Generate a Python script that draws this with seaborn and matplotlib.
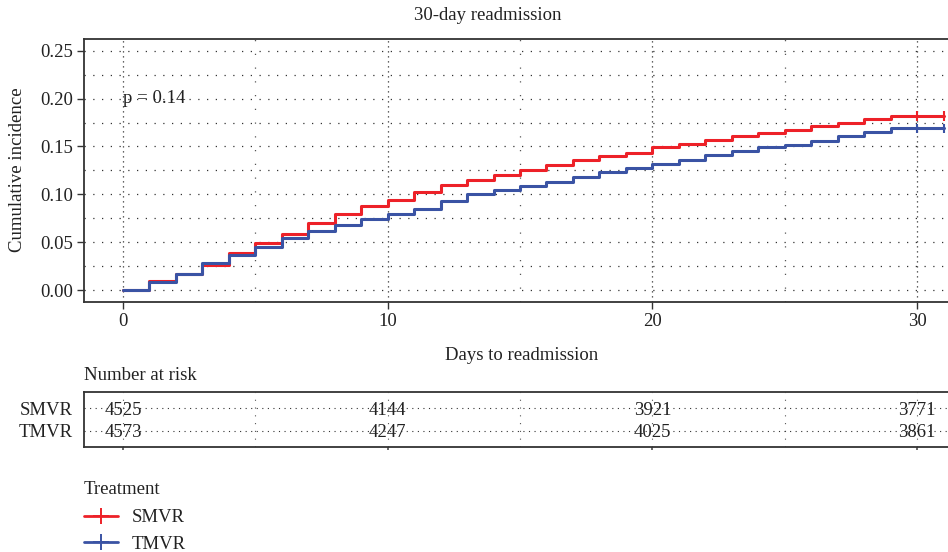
import pandas as pd
import matplotlib.pyplot as plt
import seaborn as sns
from matplotlib.ticker import MultipleLocator
from matplotlib.lines import Line2D

# cumulative incidence, one value per day (0..31)
days = list(range(0, 32))
smvr = [0, 0.009, 0.017, 0.026, 0.039, 0.049, 0.059, 0.070, 0.079, 0.088,
        0.094, 0.102, 0.110, 0.115, 0.120, 0.125, 0.131, 0.136, 0.140, 0.143,
        0.149, 0.153, 0.157, 0.161, 0.164, 0.167, 0.171, 0.175, 0.179, 0.182,
        0.182, 0.182]
tmvr = [0, 0.008, 0.017, 0.028, 0.037, 0.045, 0.054, 0.062, 0.068, 0.074,
        0.079, 0.085, 0.093, 0.100, 0.105, 0.109, 0.113, 0.118, 0.123, 0.127,
        0.132, 0.136, 0.141, 0.145, 0.149, 0.152, 0.156, 0.161, 0.165, 0.169,
        0.169, 0.169]
censor_days = [30, 31]

groups = ["SMVR", "TMVR"]
risk_days = [0, 10, 20, 30]
risk_smvr = [4525, 4144, 3921, 3771]
risk_tmvr = [4573, 4247, 4025, 3861]
p_text = "p = 0.14"

colors = {"SMVR": "#ED2128", "TMVR": "#3A53A4"}
FS = 13.5
TXT = "#222222"

sns.set_theme(style="white")
plt.rcParams["font.family"] = ["Liberation Serif", "DejaVu Serif"]
plt.rcParams["font.size"] = FS

df = pd.DataFrame({
    "day": days * 2,
    "incidence": smvr + tmvr,
    "treatment": ["SMVR"] * len(days) + ["TMVR"] * len(days),
})
cens = df[df["day"].isin(censor_days)]

fig = plt.figure(figsize=(9.48, 5.52), dpi=100)
ax = fig.add_axes([0.0886, 0.4529, 0.924, 0.4759])

sns.lineplot(data=df, x="day", y="incidence", hue="treatment", palette=colors,
             drawstyle="steps-post", estimator=None, lw=2.2, legend=False, ax=ax)
sns.scatterplot(data=cens, x="day", y="incidence", hue="treatment", palette=colors,
                marker="|", s=45, linewidth=1.5, legend=False, ax=ax, zorder=5)

ax.set_xlim(-1.47, 31.62)
ax.set_ylim(-0.0125, 0.262)
ax.set_xticks([0, 10, 20, 30])
ax.set_yticks([0, 0.05, 0.10, 0.15, 0.20, 0.25])
ax.set_yticklabels(["0.00", "0.05", "0.10", "0.15", "0.20", "0.25"])
ax.xaxis.set_minor_locator(MultipleLocator(5))
ax.yaxis.set_minor_locator(MultipleLocator(0.025))
ax.tick_params(which="major", direction="out", length=5, width=1, color="#333333",
               labelsize=FS, labelcolor=TXT, left=True, bottom=True, pad=3)
ax.tick_params(which="minor", length=0)
ax.grid(which="major", axis="x", color="#333333", lw=0.9, ls=(0, (1, 3)))
ax.grid(which="minor", axis="x", color="#555555", lw=0.9, ls=(0, (1, 10)))
ax.grid(which="both", axis="y", color="#333333", lw=0.9, ls=(0, (1, 6)))
ax.set_xlabel("")
ax.set_ylabel("")
for s in ["left", "top", "bottom"]:
    ax.spines[s].set_color("#333333")
    ax.spines[s].set_linewidth(1.3)
ax.spines["right"].set_visible(False)
ax.text(0, 0.20, p_text, fontsize=FS, va="center", ha="left", color=TXT)

fig.text(18 / 948, 1 - 170 / 552, "Cumulative incidence", rotation=90,
         ha="center", va="center", fontsize=FS, color=TXT)
fig.text(488 / 948, 1 - 15 / 552, "30-day readmission", ha="center", va="center",
         fontsize=FS, color=TXT)
fig.text(522 / 948, 1 - 355 / 552, "Days to readmission", ha="center", va="center",
         fontsize=FS, color=TXT)
fig.text(84 / 948, 1 - 376 / 552, "Number at risk", ha="left", va="center",
         fontsize=FS, color=TXT)

# risk table
tab = fig.add_axes([0.0886, 0.1902, 0.924, 0.0996], sharex=ax)
for row, counts in enumerate([risk_smvr, risk_tmvr]):
    for d, n in zip(risk_days, counts):
        tab.text(d, row, str(n), ha="center", va="center_baseline", fontsize=FS,
                 color=TXT)
tab.set_ylim(1.7, -0.7)
tab.set_yticks([0, 1])
tab.set_yticklabels(groups)
tab.tick_params(axis="y", length=0, labelsize=FS, labelcolor=TXT, pad=8)
tab.tick_params(axis="x", which="major", length=2, labelbottom=False, bottom=True,
                color="#555555")
tab.tick_params(which="minor", length=0)
tab.grid(which="major", axis="x", color="#555555", lw=0.8, ls=(0, (1, 6)))
tab.grid(which="minor", axis="x", color="#555555", lw=0.8, ls=(0, (1, 6)))
tab.grid(which="major", axis="y", color="#333333", lw=0.8, ls=(0, (1, 4)))
for s in ["left", "top", "bottom"]:
    tab.spines[s].set_color("#333333")
    tab.spines[s].set_linewidth(1.3)
tab.spines["right"].set_visible(False)

handles = [Line2D([], [], color=colors[g], lw=2, marker="+", markersize=11,
                  markeredgewidth=1.4) for g in groups]
leg = fig.legend(handles, groups, title="Treatment", loc="upper left",
                 bbox_to_anchor=(84 / 948, 1 - 481 / 552), frameon=False,
                 borderpad=0, borderaxespad=0, handlelength=1.8, handletextpad=0.75,
                 labelspacing=0.5, alignment="left", fontsize=FS, title_fontsize=FS)
leg._legend_box.sep = 8
for t in leg.get_texts():
    t.set_color(TXT)
leg.get_title().set_color(TXT)

fig.savefig("out.png", dpi=100)
